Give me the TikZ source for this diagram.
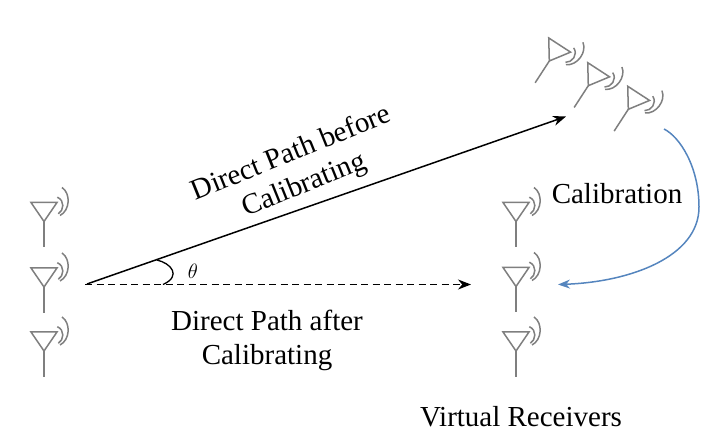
\documentclass[tikz,border=0pt]{standalone}
\usepackage{fontspec}
\setmainfont{Liberation Serif}
\usetikzlibrary{arrows.meta}

\begin{document}
\begin{tikzpicture}[
    x=1pt, y=1pt,
    antline/.style={draw=antgray, line width=1.5pt},
    label/.style={font=\fontsize{29}{34}\selectfont, align=center, text=black},
    path/.style={-{Stealth[length=13pt,width=10pt]}, line width=1.5pt},
    antenna/.pic={
        \draw[antline, line join=miter] (-13,19) -- (13,19) -- (0,0) -- cycle;
        \draw[antline] (0,0) -- (0,-26);
        \draw[antline] (13.3,24.3) .. controls (21,21) and (20,11) .. (14.3,7.7);
        \draw[antline] (18,34) .. controls (27,28) and (26,11) .. (16,6);
    }
]
\definecolor{antgray}{HTML}{7F7F7F}
\definecolor{calblue}{HTML}{5585BE}
\useasboundingbox (0,0) rectangle (712,442);

% Transmit column on the left
\pic (txTop) at (44,220.5) {antenna};
\pic (txMid) at (44,155) {antenna};
\pic (txBot) at (44,91) {antenna};

% Virtual receivers on the right
\pic (rxTop) at (516,220.5) {antenna};
\pic (rxMid) at (516,155.5) {antenna};
\pic (rxBot) at (516,91) {antenna};

% Receivers before calibrating, tilted
\pic[rotate=-33] (oldA) at (549.3,381) {antenna};
\pic[rotate=-33] (oldB) at (588.3,356.3) {antenna};
\pic[rotate=-33] (oldC) at (628.3,332.7) {antenna};

% Free ends of the paths
\coordinate (origin) at (87,158);
\coordinate (dashStart) at (85,157.5);
\coordinate (beforeEnd) at (566,325.5);
\coordinate (afterEnd) at (471,157.5);
\coordinate (calStart) at (664,313);
\coordinate (calEnd) at (558,157.5);
\coordinate (arcStart) at (156.7,182);
\coordinate (arcEnd) at (163,157.5);

\draw[path] (origin) -- (beforeEnd);
\draw[path, line width=1.2pt, dash pattern=on 7pt off 4.5pt] (dashStart) -- (afterEnd);
\draw[line width=1.3pt] (arcStart) .. controls (171,179) and (182,166) .. (arcEnd);

% Calibration move
\draw[draw=calblue, line width=1.5pt, -{Stealth[length=12pt,width=9pt]}] (calStart)
    .. controls (680,305) and (699,275) .. (699,235)
    .. controls (699,185) and (630,160) .. (calEnd);

% Labels
\node[font=\fontsize{20}{24}\selectfont] (angleLabel) at (193,171) {$\theta$};
\node[label, rotate=22] (beforeLabel) at (298,272) {Direct Path before\\Calibrating};
\node[label] (afterLabel) at (267,102) {Direct Path after\\Calibrating};
\node[label] (calLabel) at (617,248) {Calibration};
\node[label] (rxLabel) at (521,25) {Virtual Receivers};
\end{tikzpicture}
\end{document}
